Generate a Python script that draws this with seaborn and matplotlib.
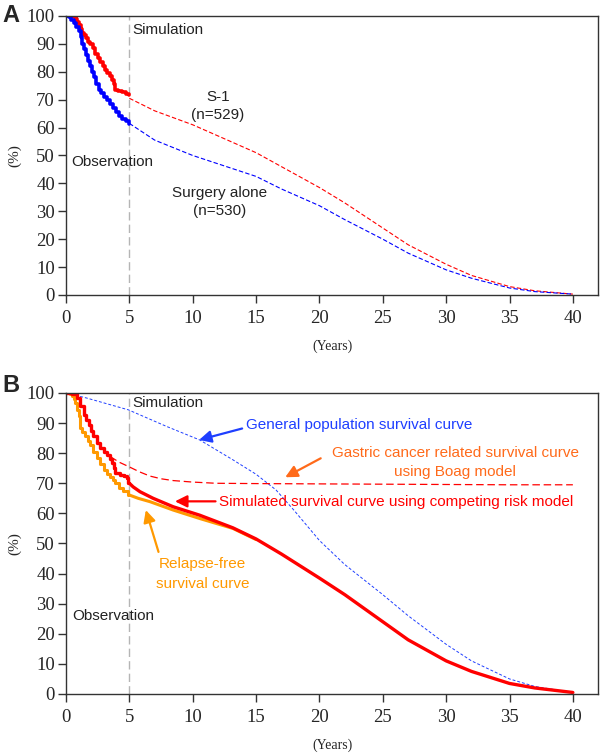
import numpy as np
import pandas as pd
import matplotlib
matplotlib.use("Agg")
import matplotlib.pyplot as plt
import seaborn as sns

sns.set_theme(style="white")
plt.rcParams['font.family'] = ['Liberation Sans', 'DejaVu Sans']

# ---- Panel A data ----
s1_obs_years = [0, 0.3, 0.6, 0.75, 0.9, 1.05, 1.15, 1.3, 1.45, 1.6, 1.75, 1.9, 2.1, 2.3, 2.5, 2.7, 2.9, 3.1, 3.25, 3.45, 3.65, 3.8, 3.9, 4.1, 4.4, 4.7, 5.0]
s1_obs_surv = [100, 100, 99.5, 99, 98, 96.8, 95.5, 94, 93.2, 92, 90.8, 90, 88.5, 86.5, 85, 83.5, 82, 80.5, 79.5, 78.5, 77, 75.5, 73.5, 73.2, 72.8, 72.2, 71.6]
sa_obs_years = [0, 0.2, 0.4, 0.6, 0.8, 1.0, 1.15, 1.3, 1.45, 1.6, 1.75, 1.9, 2.05, 2.2, 2.4, 2.6, 2.8, 3.0, 3.2, 3.45, 3.7, 3.95, 4.2, 4.45, 4.7, 5.0]
sa_obs_surv = [100, 99.5, 98.5, 97.5, 96, 94.5, 92.5, 90, 88, 86, 84, 82, 80, 78, 75.5, 73.5, 72.5, 71, 70, 68.5, 67, 65.5, 64, 63, 62.2, 61.3]

sim_years = [5, 7, 10, 12, 15, 17, 20, 22, 25, 27, 30, 32, 35, 37, 40]
s1_sim_surv = [70.5, 66, 61, 57, 51, 46, 38.5, 33, 24, 18, 11, 7, 3, 1.5, 0.3]
sa_sim_surv = [61.5, 55.5, 50, 47, 42.5, 38, 32, 27, 20, 15, 9, 6, 2.5, 1.2, 0.3]

# ---- Panel B data ----
crm_obs_years = [0, 0.5, 0.86, 1.13, 1.39, 1.6, 1.78, 2.0, 2.17, 2.45, 2.7, 3.0, 3.22, 3.45, 3.61, 3.75, 3.87, 4.27, 4.6, 4.79, 4.92, 5.0]
crm_obs_surv = [100, 99.5, 98.3, 95.6, 92.8, 91, 89.4, 87.5, 85.6, 83.5, 81.7, 80.5, 79.4, 78, 76.7, 75, 73.3, 72.8, 72.3, 71.7, 70, 70]
crm_sim_years = [5.0, 5.3, 5.84, 6.88, 8.46, 10.55, 13.17, 15, 17, 20, 22, 25, 27, 30, 32, 35, 37, 40]
crm_sim_surv = [70, 68.8, 67.2, 65, 62.2, 59.4, 55.2, 51.5, 46.5, 38.5, 33, 24, 18, 11, 7.5, 3.5, 2, 0.5]

rfs_obs_years = [0, 0.3, 0.47, 0.6, 0.73, 0.85, 0.99, 1.13, 1.3, 1.52, 1.7, 1.91, 2.15, 2.43, 2.7, 2.96, 3.2, 3.48, 3.7, 3.87, 4.2, 4.5, 4.92, 5.0]
rfs_obs_surv = [100, 99.5, 98.9, 98, 96.7, 94.5, 92.2, 88.3, 87, 85.6, 84, 82.8, 80.5, 78.3, 76.5, 74.4, 73.2, 72.2, 71, 70, 68.5, 67.3, 66.1, 66.1]
rfs_sim_years = [5.0, 5.7, 6.62, 8.46, 10.55, 13.17, 15.0]
rfs_sim_surv = [66.1, 65, 63.9, 61.1, 58.3, 55, 51.3]

gen_years = [0, 1.65, 4.92, 7.93, 10.55, 13.17, 15, 16.57, 18, 20, 22, 25, 27, 30, 32, 35, 37, 40]
gen_surv = [100, 98.3, 94.4, 88.9, 84.4, 77.8, 73, 67.8, 61, 51, 43, 33, 26, 16.5, 11, 5, 2.5, 0.5]

boag_years = [3.48, 4.2, 4.92, 5.8, 6.62, 7.5, 8.46, 10, 11.86, 15, 20, 25, 30, 35, 40]
boag_surv = [78.9, 77, 75.6, 73.8, 72.4, 71.5, 70.9, 70.4, 70, 69.9, 69.8, 69.7, 69.6, 69.5, 69.5]

x_ticks = [0, 5, 10, 15, 20, 25, 30, 35, 40]
y_ticks = [0, 10, 20, 30, 40, 50, 60, 70, 80, 90, 100]

RED = "#ff0000"
BLUE = "#0000ff"
ORANGE = "#ff9900"
BOAG = "#ff6a1a"
GENBLUE = "#1f3fff"
SERIF = ['Liberation Serif', 'DejaVu Serif']


def style_axes(ax):
    ax.set_xlim(0, 42)
    ax.set_ylim(0, 100)
    ax.set_xticks(x_ticks)
    ax.set_yticks(y_ticks)
    ax.tick_params(axis='both', direction='out', length=6, width=1, color='#333333',
                   labelsize=13.5, bottom=True, left=True)
    ax.tick_params(axis='x', pad=5)
    ax.tick_params(axis='y', pad=2)
    for lab in ax.get_xticklabels() + ax.get_yticklabels():
        lab.set_fontfamily(SERIF)
    for sp in ax.spines.values():
        sp.set_color('#333333')
        sp.set_linewidth(1.0)
    ax.set_xlabel('(Years)', fontsize=10, family=SERIF, labelpad=9)
    ax.set_ylabel('(%)', fontsize=11, family=SERIF, labelpad=4)
    ax.axvline(5, color='#b5b5b5', lw=1, ls=(0, (6, 3)), zorder=0)


fig = plt.figure(figsize=(6, 7.54), dpi=100)
axA = fig.add_axes([0.110, 0.6088, 0.887, 0.370])
axB = fig.add_axes([0.110, 0.0796, 0.887, 0.3992])

# ---- Panel A ----
style_axes(axA)
sns.lineplot(x=s1_obs_years, y=s1_obs_surv, ax=axA, color=RED, lw=2.6, drawstyle='steps-post', estimator=None)
sns.lineplot(x=sa_obs_years, y=sa_obs_surv, ax=axA, color=BLUE, lw=2.6, drawstyle='steps-post', estimator=None)
sns.lineplot(x=sim_years, y=s1_sim_surv, ax=axA, color=RED, lw=0.8, ls=(0, (4, 2)), estimator=None)
sns.lineplot(x=sim_years, y=sa_sim_surv, ax=axA, color=BLUE, lw=0.8, ls=(0, (4, 2)), estimator=None)

axA.text(5.2, 95, 'Simulation', fontsize=11, va='center', ha='left', color='#222222')
axA.text(0.4, 47.6, 'Observation', fontsize=11, va='center', ha='left', color='#222222')
axA.text(12.0, 71, 'S-1', fontsize=11, va='center', ha='center', color='#222222')
axA.text(12.0, 64.6, '(n=529)', fontsize=11, va='center', ha='center', color='#222222')
axA.text(12.1, 36.5, 'Surgery alone', fontsize=11, va='center', ha='center', color='#222222')
axA.text(12.1, 30, '(n=530)', fontsize=11, va='center', ha='center', color='#222222')

# ---- Panel B ----
style_axes(axB)
sns.lineplot(x=gen_years, y=gen_surv, ax=axB, color=GENBLUE, lw=0.7, ls=(0, (3, 2)), estimator=None)
sns.lineplot(x=boag_years, y=boag_surv, ax=axB, color=RED, lw=0.9, ls=(0, (6, 3)), estimator=None)
sns.lineplot(x=rfs_obs_years, y=rfs_obs_surv, ax=axB, color=ORANGE, lw=2.2, drawstyle='steps-post', estimator=None)
sns.lineplot(x=rfs_sim_years, y=rfs_sim_surv, ax=axB, color=ORANGE, lw=2.2, estimator=None)
sns.lineplot(x=crm_obs_years, y=crm_obs_surv, ax=axB, color=RED, lw=2.4, drawstyle='steps-post', estimator=None)
sns.lineplot(x=crm_sim_years, y=crm_sim_surv, ax=axB, color=RED, lw=2.4, estimator=None)

axB.text(5.2, 96.7, 'Simulation', fontsize=11, va='center', ha='left', color='#222222')
axB.text(0.5, 25.8, 'Observation', fontsize=11, va='center', ha='left', color='#222222')

arrow = dict(arrowstyle='-|>,head_length=0.6,head_width=0.3', lw=1.6, shrinkA=0, shrinkB=0)
axB.annotate('', xy=(10.5, 84.4), xytext=(13.9, 88.2), arrowprops=dict(arrow, color=GENBLUE))
axB.text(14.2, 89.4, 'General population survival curve', fontsize=11, va='center', ha='left', color=GENBLUE)

axB.annotate('', xy=(17.3, 72), xytext=(20.1, 78.3), arrowprops=dict(arrow, color=BOAG))
axB.text(30.7, 80.2, 'Gastric cancer related survival curve', fontsize=11, va='center', ha='center', color=BOAG)
axB.text(30.7, 73.6, 'using Boag model', fontsize=11, va='center', ha='center', color=BOAG)

axB.annotate('', xy=(8.6, 64), xytext=(11.8, 64), arrowprops=dict(arrow, color=RED))
axB.text(12.1, 63.9, 'Simulated survival curve using competing risk model', fontsize=11, va='center', ha='left', color=RED)

axB.annotate('', xy=(6.3, 61.1), xytext=(7.3, 47.2), arrowprops=dict(arrow, color=ORANGE))
axB.text(10.8, 43.2, 'Relapse-free', fontsize=11, va='center', ha='center', color=ORANGE)
axB.text(10.8, 36.7, 'survival curve', fontsize=11, va='center', ha='center', color=ORANGE)

fig.text(0.004, 1 - 16 / 754, 'A', fontsize=17, fontweight='bold', va='center', ha='left')
fig.text(0.004, 1 - 385 / 754, 'B', fontsize=17, fontweight='bold', va='center', ha='left')

fig.savefig('out.png', dpi=100)
